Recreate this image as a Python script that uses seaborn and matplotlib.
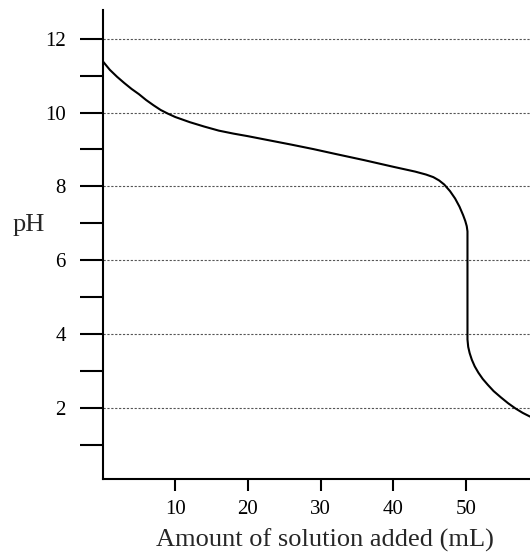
import matplotlib
matplotlib.use("Agg")
import matplotlib.pyplot as plt
import seaborn as sns

# Titration curve
volume_ml = [0, 0.5, 1, 2, 3, 4, 5, 6, 7, 8, 9, 10, 12, 14, 16, 18, 20,
             22.6, 26, 29, 32, 36, 40, 43, 44.5, 45.5, 46.3, 47, 47.8,
             48.5, 49.1, 49.6, 49.9, 50.1, 50.2, 50.2, 50.3, 50.5, 50.8,
             51.2, 51.7, 52.3, 53, 53.8, 54.8, 55.8, 56.8, 57.8, 58.8]
ph_values = [11.4, 11.28, 11.16, 10.97, 10.8, 10.64, 10.5, 10.34, 10.2,
             10.07, 9.97, 9.88, 9.74, 9.62, 9.51, 9.43, 9.36, 9.26, 9.13,
             9.01, 8.88, 8.71, 8.53, 8.4, 8.32, 8.25, 8.16, 8.05, 7.87,
             7.67, 7.45, 7.22, 7.06, 6.92, 6.78, 3.85, 3.65, 3.48, 3.3,
             3.12, 2.95, 2.78, 2.62, 2.45, 2.28, 2.12, 1.98, 1.86, 1.76]

x_ticks = [10, 20, 30, 40, 50]
y_major = [2, 4, 6, 8, 10, 12]
y_minor = [1, 3, 5, 7, 9, 11]

sns.set_style("white")
plt.rcParams['font.family'] = ['Liberation Serif', 'DejaVu Serif']

fig = plt.figure(figsize=(5.3, 5.52), dpi=100)
ax = fig.add_axes([0.1934, 0.1317, 0.8066, 0.8502])

sns.lineplot(x=volume_ml, y=ph_values, estimator=None, sort=False,
             color='black', linewidth=1.5, ax=ax)

ax.set_xlim(0, 58.8)
ax.set_ylim(0.06, 12.78)

# axes style
for side in ['top', 'right']:
    ax.spines[side].set_visible(False)
for side in ['left', 'bottom']:
    ax.spines[side].set_linewidth(1.5)
    ax.spines[side].set_color('black')

ax.set_xticks(x_ticks)
ax.set_yticks(y_major)
ax.set_yticks(y_minor, minor=True)
ax.tick_params(axis='x', direction='out', length=8.6, width=1.5,
               pad=6, labelsize=15, bottom=True, colors='black')
ax.tick_params(axis='y', which='both', direction='out', length=16.5,
               width=1.5, pad=10, labelsize=15, left=True, colors='black')

ax.yaxis.grid(True, which='major', linestyle=(0, (2, 1.5)),
              color='#555555', linewidth=0.8)
ax.xaxis.grid(False)

ax.set_xlabel('Amount of solution added (mL)', fontsize=19)
ax.xaxis.set_label_coords(0.52, -0.129)
ax.xaxis.label.set_va('center')
ax.set_ylabel('pH', fontsize=19, rotation=0, va='center', ha='center')
ax.yaxis.set_label_coords(-0.172, 0.542)

fig.savefig('out.png', dpi=100)
